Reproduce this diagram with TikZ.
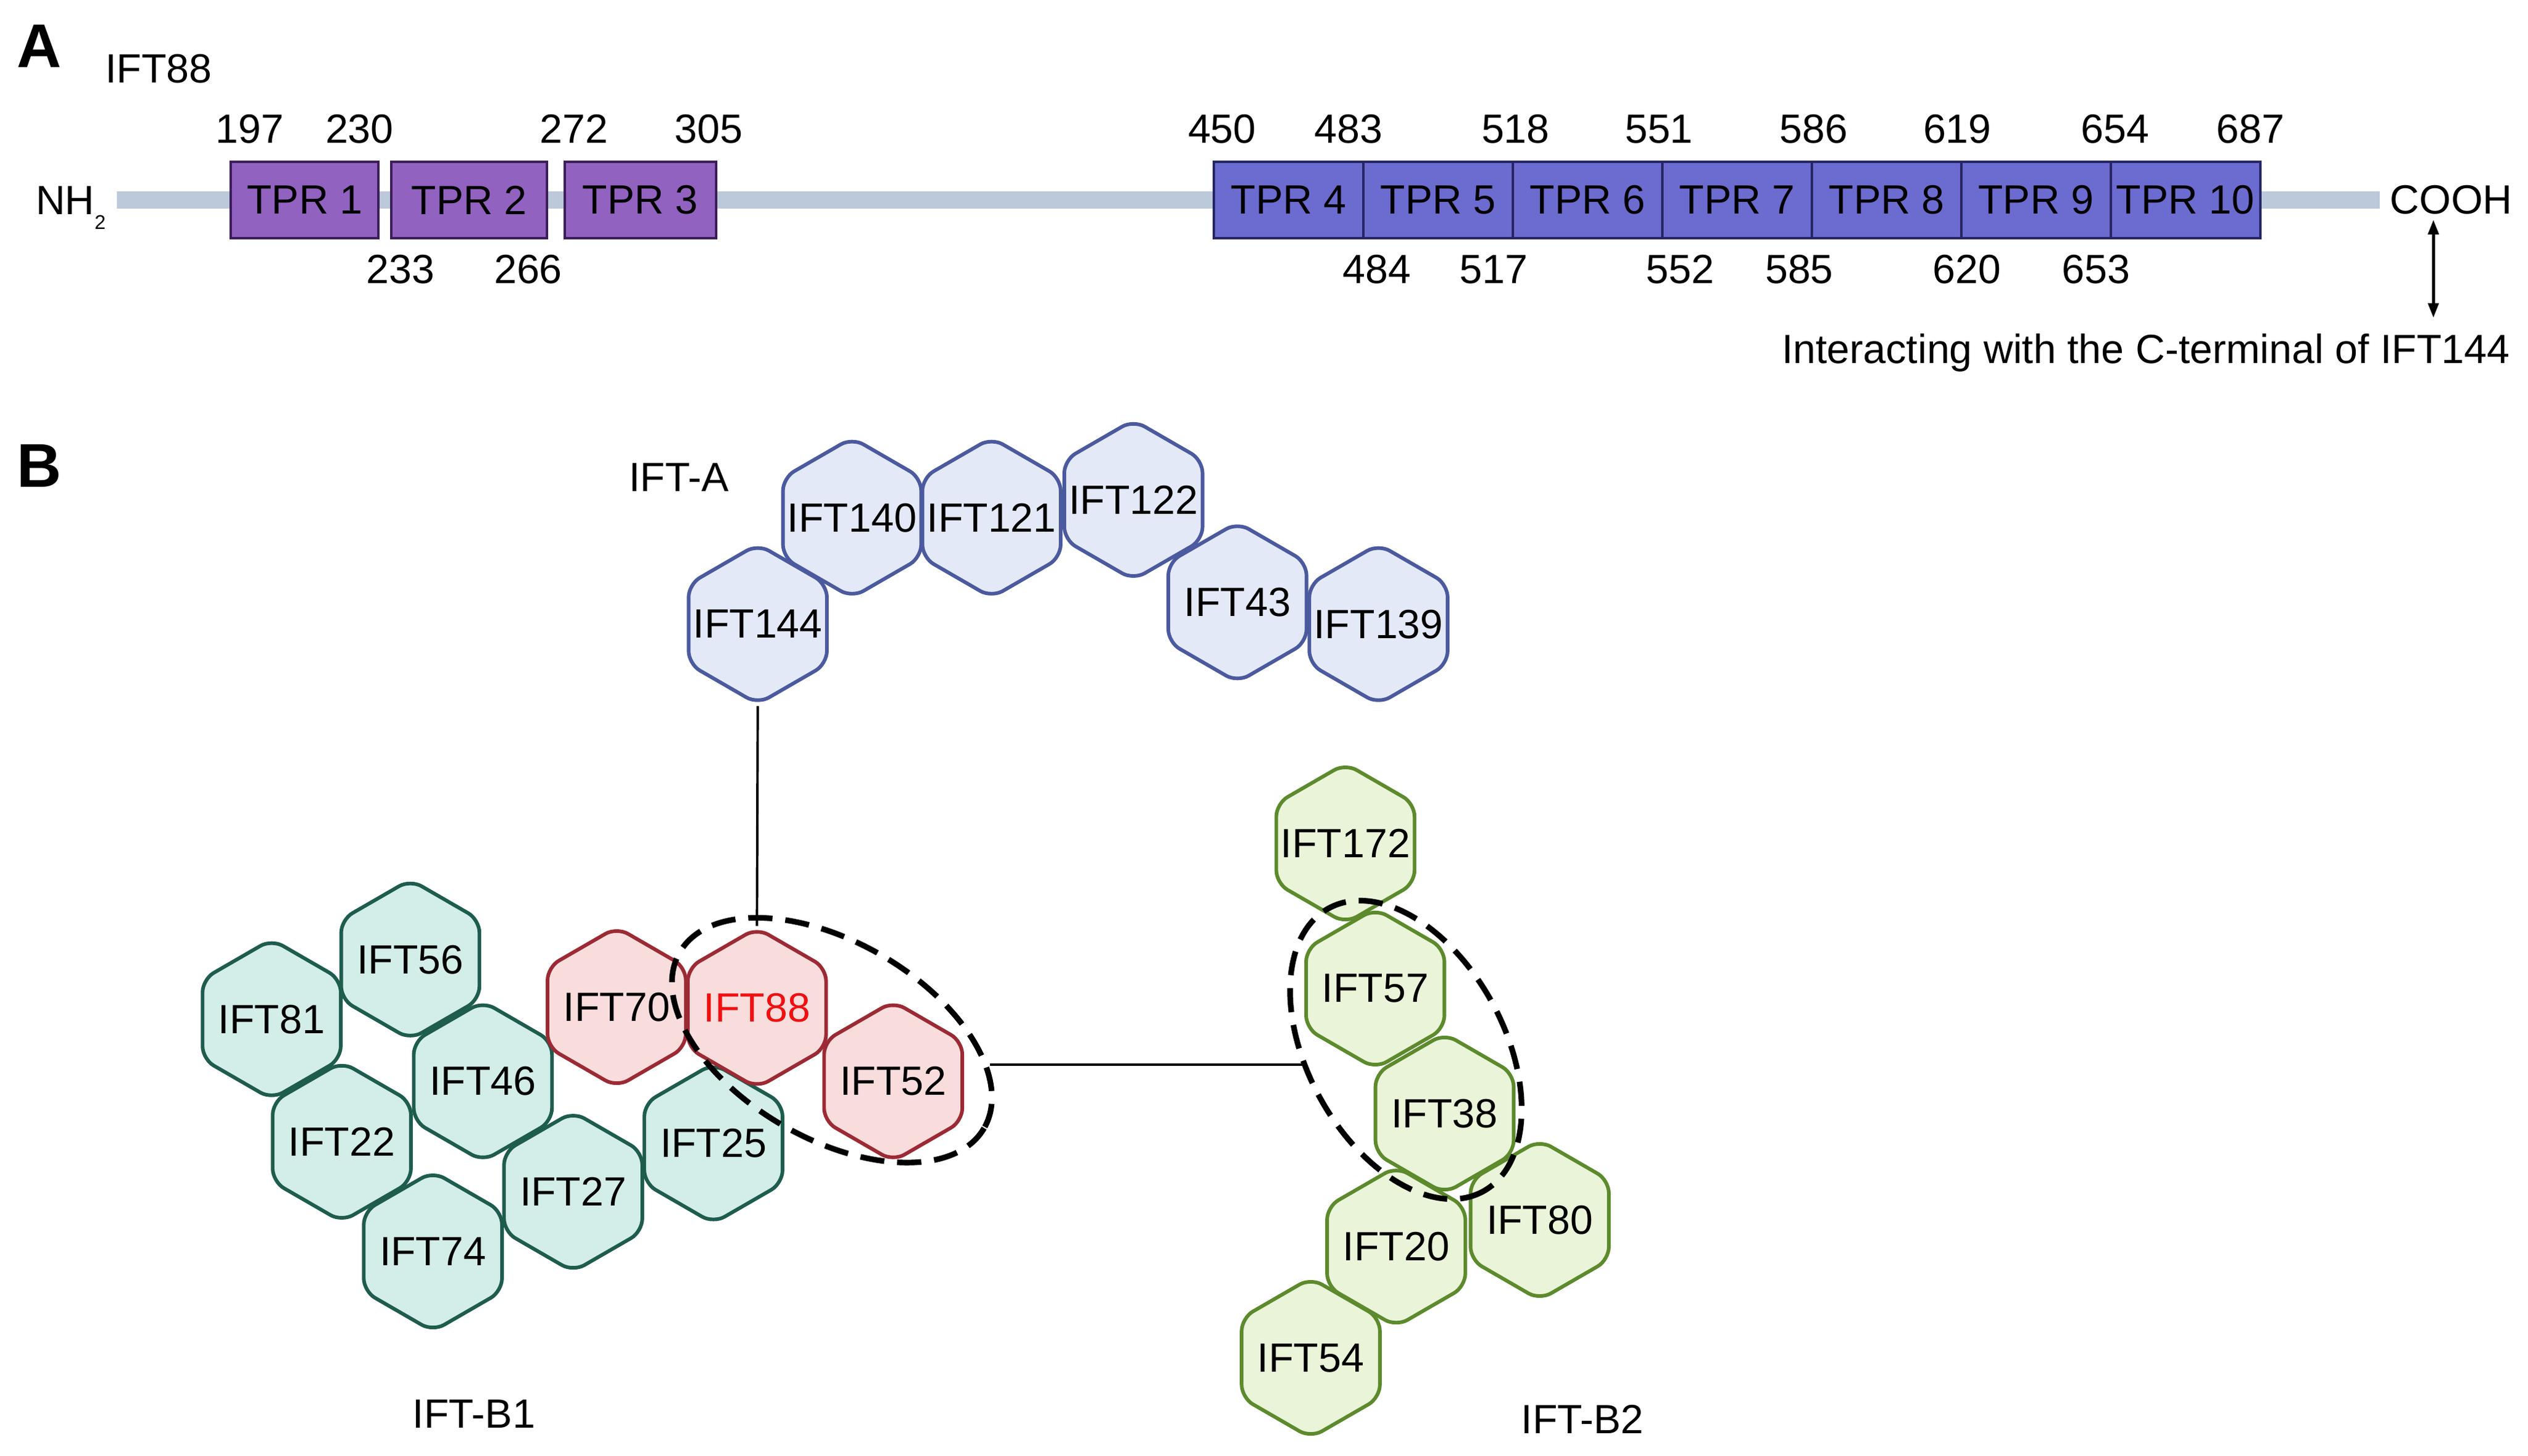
\documentclass[tikz,border=0pt]{standalone}
\usepackage{fontspec}
\setmainfont{Liberation Sans}
\usepackage{tikz}
\usetikzlibrary{arrows.meta}
\usetikzlibrary{shapes}
\definecolor{backbonecol}{HTML}{BCC9DB}
\definecolor{tprafill}{HTML}{9162BF}
\definecolor{tpraline}{HTML}{3C1E5A}
\definecolor{tprbfill}{HTML}{6C6BCF}
\definecolor{tprbline}{HTML}{262665}
\definecolor{iftafill}{HTML}{E4E9F8}
\definecolor{iftaline}{HTML}{4B5A9E}
\definecolor{iftbfill}{HTML}{D3EDE8}
\definecolor{iftbline}{HTML}{1E5C4E}
\definecolor{corefill}{HTML}{F9DDDD}
\definecolor{coreline}{HTML}{9C2A34}
\definecolor{iftcfill}{HTML}{EAF4D9}
\definecolor{iftcline}{HTML}{5C8A2C}
\definecolor{ifteightyeight}{HTML}{F01010}
\tikzset{
	txt/.style={font=\fontsize{14.4pt}{17pt}\selectfont, inner sep=0pt},
	panel/.style={font=\fontsize{21.8pt}{24pt}\selectfont\bfseries, inner sep=0pt},
	num/.style={txt},
	backbone/.style={draw=backbonecol, line width=2.2mm},
	tpr/.style={
		draw,
		rectangle,
		txt,
		line width=0.3mm,
		minimum height=9.4mm,
	},
	tpra/.style={tpr, draw=tpraline, fill=tprafill},
	tprb/.style={tpr, draw=tprbline, fill=tprbfill, minimum width=18.54mm},
	hexa/.style={
		draw,
		txt,
		regular polygon,
		regular polygon sides=6,
		shape border rotate=90,
		inner sep=-4mm,
		minimum size=19.8mm,
		rounded corners=1.6mm,
		line width=0.45mm,
	},
	ifta/.style={hexa, draw=iftaline, fill=iftafill},
	iftb/.style={hexa, draw=iftbline, fill=iftbfill},
	iftcore/.style={hexa, draw=coreline, fill=corefill},
	iftc/.style={hexa, draw=iftcline, fill=iftcfill},
	link/.style={line width=0.3mm},
	cplx/.style={
		line width=0.7mm,
		dash pattern=on 3mm off 1.6mm,
	},
	dblarrow/.style={
		line width=0.35mm,
		{Triangle[length=1.8mm,width=1.3mm]}-{Triangle[length=1.8mm,width=1.3mm]}
	},
}

\begin{document}
\begin{tikzpicture}[x=0.2mm, y=-0.2mm]
		\useasboundingbox (0,0) rectangle (1568,902.5);

		% panel A: domain map of IFT88
		\node[panel]            (pa) at (24.5,28.5) {A};
		\node[txt,anchor=west]  (ift88title) at (65,42.5) {IFT88};

		\node[txt,anchor=base west] (nh2) at (21.8,133) {NH\raisebox{-5.3pt}{\fontsize{7pt}{8pt}\selectfont 2}};
		\node[txt,anchor=west]  (cooh) at (1482,124) {COOH};
		\draw[backbone, shorten <=1.3mm, shorten >=1.2mm] (nh2.east |- cooh.west) -- (cooh.west);

		\node[tpra, minimum width=18.3mm]  (tpr1) at (189,124) {TPR 1};
		\node[tpra, minimum width=19.32mm] (tpr2) at (291,124) {TPR 2};
		\node[tpra, minimum width=18.74mm] (tpr3) at (397.2,124) {TPR 3};
		\foreach \k in {4,...,10}
			\node[tprb] (tpr\k) at ({799.35+92.7*(\k-4)},124) {TPR \k};

		\foreach \n/\x in {197/155,230/223,272/356,305/439.5,450/758,483/836.5,518/940,551/1029,586/1125,619/1214,654/1312,687/1396}
			\node[num] (top\n) at (\x,80) {\n};
		\foreach \n/\x in {233/248.5,266/327.6,484/854,517/926.6,552/1042,585/1116,620/1220,653/1300}
			\node[num] (bot\n) at (\x,167) {\n};

		\node[txt,anchor=east,text depth=0pt] (inter) at (1557,216) {Interacting with the C-terminal of IFT144};
		\draw[dblarrow, shorten <=0.6mm, shorten >=1.9mm] ([xshift=-2.2mm]cooh.south) -- ([xshift=-2.2mm]cooh.south |- inter.north);

		% panel B: IFT complexes
		\node[panel]  (pb) at (24.5,289) {B};
		\node[txt]    (labA)  at (421,296) {IFT-A};
		\node[txt]    (labB1) at (294,876.6) {IFT-B1};
		\node[txt]    (labB2) at (981.5,880) {IFT-B2};

		\node[ifta] (ift144) at (470,387) {IFT144};
		\node[ifta] (ift140) at (528.5,321) {IFT140};
		\node[ifta] (ift121) at (615,321) {IFT121};
		\node[ifta] (ift122) at (703,310) {IFT122};
		\node[ifta] (ift43)  at (767.5,373.5) {IFT43};
		\node[ifta] (ift139) at (855,387) {IFT139};

		\node[iftb] (ift81) at (168.5,632) {IFT81};
		\node[iftb] (ift56) at (254.5,595) {IFT56};
		\node[iftb] (ift46) at (299.5,670.5) {IFT46};
		\node[iftb] (ift22) at (212,708) {IFT22};
		\node[iftb] (ift74) at (268.5,776) {IFT74};
		\node[iftb] (ift27) at (355.5,739) {IFT27};
		\node[iftb] (ift25) at (442.5,709) {IFT25};
		\node[iftcore] (ift70) at (382.5,624.5) {IFT70};
		\node[iftcore,text=ifteightyeight] (ift88) at (469.5,625) {IFT88};
		\node[iftcore] (ift52) at (554,670.5) {IFT52};

		\node[iftc] (ift172) at (834.5,523) {IFT172};
		\node[iftc] (ift57)  at (853,613) {IFT57};
		\node[iftc] (ift38)  at (896,690.5) {IFT38};
		\node[iftc] (ift20)  at (866,773) {IFT20};
		\node[iftc] (ift80)  at (955,756.5) {IFT80};
		\node[iftc] (ift54)  at (813,842) {IFT54};

		\draw[link] (ift144.south) -- (ift88.north);

		\draw[cplx, rotate around={-30:(516,645)}] (516,645) ellipse [x radius=109, y radius=61];
		\draw[cplx, rotate around={-61.4:(872,651)}] (872,651) ellipse [x radius=100, y radius=61];

		\coordinate (b1end) at (614,660);
		\coordinate (b2end) at (810,660);
		\draw[link] (b1end) -- (b2end);

	\end{tikzpicture}
\end{document}
